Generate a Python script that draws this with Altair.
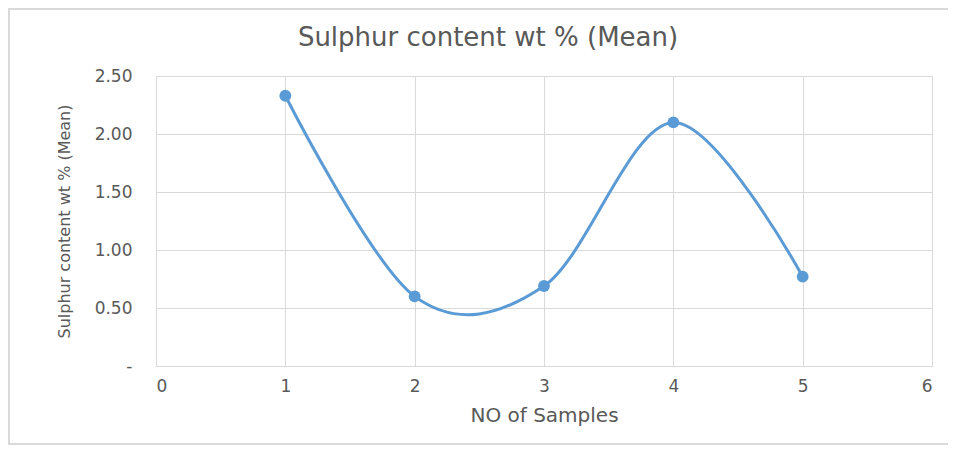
import altair as alt
import pandas as pd

samples = [1, 2, 3, 4, 5]
sulphur = [2.33, 0.60, 0.69, 2.10, 0.77]
x_ticks = [0, 1, 2, 3, 4, 5, 6]
y_ticks = [0, 0.5, 1.0, 1.5, 2.0, 2.5]

df = pd.DataFrame({"sample": samples, "sulphur": sulphur})

FONT = "DejaVu Sans"
GRAY = "#595959"
BLUE = "#5b9bd5"

x_enc = alt.X("sample:Q", scale=alt.Scale(domain=[0, 6], nice=False),
              axis=alt.Axis(values=x_ticks, format="d", title="NO of Samples", grid=True,
                            gridColor="#d9d9d9", domainColor="#d9d9d9", ticks=False,
                            labelPadding=12, titlePadding=11, labelFontSize=17,
                            titleFontSize=20, titleFontWeight="normal",
                            labelColor=GRAY, titleColor=GRAY, labelFont=FONT, titleFont=FONT))
y_enc = alt.Y("sulphur:Q", scale=alt.Scale(domain=[0, 2.5], nice=False),
              axis=alt.Axis(values=y_ticks, title="Sulphur content wt % (Mean)", grid=True,
                            gridColor="#d9d9d9", domainColor="#d9d9d9", ticks=False,
                            labelExpr="datum.value == 0 ? '-' : format(datum.value, '.2f')",
                            labelPadding=24, titlePadding=22, labelFontSize=17,
                            titleFontSize=16, titleFontWeight="normal",
                            labelColor=GRAY, titleColor=GRAY, labelFont=FONT, titleFont=FONT))

border = alt.Chart(df).mark_rect(fill=None, stroke="#d9d9d9", strokeWidth=2).encode(
    x=alt.value(-147), x2=alt.value(820), y=alt.value(-67), y2=alt.value(368)
)

line = alt.Chart(df).mark_line(interpolate="cardinal", color=BLUE, strokeWidth=3).encode(
    x=x_enc, y=y_enc
)
points = alt.Chart(df).mark_point(filled=True, color=BLUE, size=140, opacity=1).encode(
    x="sample:Q", y="sulphur:Q"
)

chart = alt.layer(border, line, points).properties(
    width=776, height=290,
    title=alt.TitleParams("Sulphur content wt % (Mean)", fontSize=26, font=FONT,
                          fontWeight="normal", color=GRAY, offset=-43, dx=-56,
                          frame="group"),
    autosize=alt.AutoSizeParams(type="none"),
    padding={"left": 148, "top": 68, "right": 16, "bottom": 79},
).configure_view(stroke=None)

chart.save("out.html", embed_options={"renderer": "svg", "actions": False})
